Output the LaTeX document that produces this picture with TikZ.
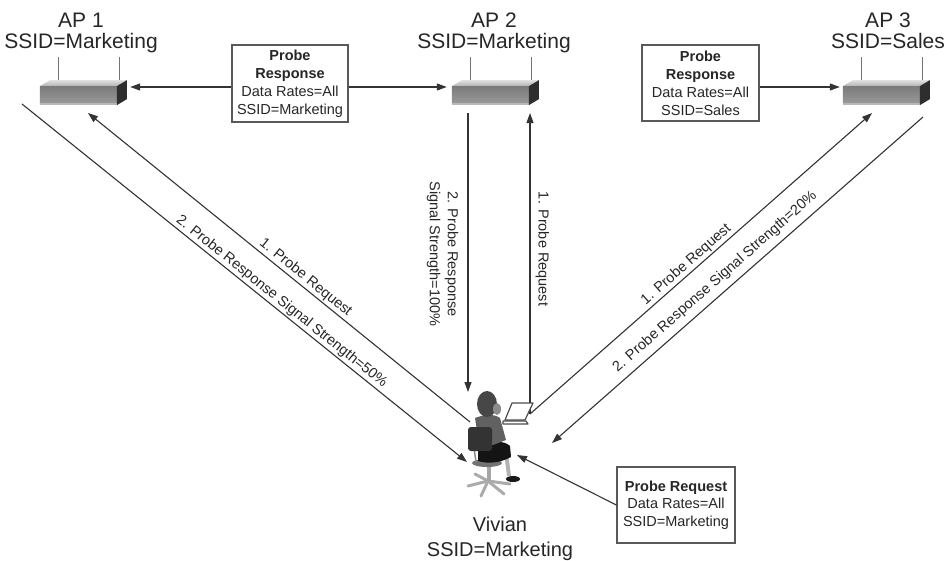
\documentclass[tikz,border=0pt]{standalone}
\usepackage{fontspec}
\setmainfont{Liberation Sans}
\usetikzlibrary{arrows.meta,calc}

\tikzset{
  wire/.style={draw=black!80, line width=1.1pt},
  arrow/.style={wire, -{Triangle[length=10pt,width=7pt]}},
  msg/.style={font=\fontsize{14.5}{18}\selectfont, text=black!85, inner sep=1.5pt},
  msgbox/.style={draw=black!65, line width=1.2pt, fill=white, align=center,
    inner sep=2pt, text=black!85, font=\fontsize{14.5}{18}\selectfont},
  apname/.style={font=\fontsize{21}{21}\selectfont, align=center, text=black!85,
    inner sep=0pt, anchor=north},
  apnode/.style={rectangle, minimum width=87pt, minimum height=25pt, inner sep=0pt},
  % access point drawn from the lower left corner of its front face
  ap/.pic={
    \draw[black!55, line width=1pt] (19,-10) -- (19,-48);
    \draw[black!55, line width=1pt] (80,-20) -- (80,-48);
    \shade[top color=black!12, bottom color=black!30] (0,-19) -- (10,-25) -- (87,-25) -- (77,-19) -- cycle;
    \shade[top color=black!52, bottom color=black!40] (0,-19) rectangle (77,-2);
    \fill[black!28] (0,-2) rectangle (77,0);
    \fill[black!82] (77,-19) -- (87,-25) -- (87,-6) -- (77,0) -- cycle;
  }
}

\begin{document}
\begin{tikzpicture}[x=1pt, y=-1pt]
\useasboundingbox (0,0) rectangle (948,560);

% access points
\node[apnode] (ap1) at (83.5,92.5) {};
\node[apnode] (ap2) at (495.5,92.5) {};
\node[apnode] (ap3) at (886.5,92.5) {};
\pic at (ap1.south west) {ap};
\pic at (ap2.south west) {ap};
\pic at (ap3.south west) {ap};

\node[apname] (ap1name) at (81,13) {AP 1\\SSID=Marketing};
\node[apname] (ap2name) at (494,13) {AP 2\\SSID=Marketing};
\node[apname] (ap3name) at (888,13) {AP 3\\SSID=Sales};

% frame boxes
\node[msgbox, minimum width=116pt, minimum height=77pt] (pr1) at (290,83.5)
  {\textbf{Probe}\\\textbf{Response}\\Data Rates=All\\SSID=Marketing};
\node[msgbox, minimum width=117pt, minimum height=76pt] (pr3) at (700.5,83)
  {\textbf{Probe}\\\textbf{Response}\\Data Rates=All\\SSID=Sales};
\node[msgbox, minimum width=118pt, minimum height=76pt, font=\fontsize{14.5}{17.5}\selectfont] (preq) at (676,505)
  {\textbf{Probe Request}\\Data Rates=All\\SSID=Marketing};

% connector end points
\coordinate (row) at (0,87);
\coordinate (ap1out) at (22,104);
\coordinate (ap1in) at (88,113);
\coordinate (ap2out) at (468,113);
\coordinate (ap2in) at (530,113);
\coordinate (ap3in) at (872,113);
\coordinate (ap3out) at (923,117);
\coordinate (shoulder) at (470,422);
\coordinate (lap) at (530,414);
\coordinate (head) at (468,392);
\coordinate (chairl) at (467,462);
\coordinate (chairr) at (552,443);
\coordinate (knee) at (517,455);

% probe responses broadcast to the access points
\draw[arrow, shorten >=3pt] (pr1.west |- row) -- (ap1.east |- row);
\draw[arrow, shorten >=5pt] (pr1.east |- row) -- (ap2.west |- row);
\draw[arrow, shorten >=3pt] (pr3.east |- row) -- (ap3.west |- row);

% AP 1 exchange
\draw[arrow] (shoulder) -- node[msg, pos=0.445, sloped, above] {1. Probe Request} (ap1in);
\draw[arrow] (ap1out) -- node[msg, pos=0.571, sloped, above] {2. Probe Response Signal Strength=50\%} (chairl);

% AP 2 exchange
\draw[arrow] (ap2out) -- node[msg, pos=0.505, rotate=-90, anchor=north, align=center,
  inner xsep=0pt, inner ysep=9pt] {2. Probe Response\\Signal Strength=100\%} (head);
\draw[arrow] (lap) -- node[msg, pos=0.548, rotate=-90, anchor=south,
  inner xsep=0pt, inner ysep=5pt] {1. Probe Request} (ap2in);

% AP 3 exchange
\draw[arrow] (lap) -- node[msg, pos=0.474, sloped, above] {1. Probe Request} (ap3in);
\draw[arrow] (ap3out) -- node[msg, pos=0.537, sloped, above=4.5pt] {2. Probe Response Signal Strength=20\%} (chairr);

% client request
\draw[arrow] (preq.west) -- (knee);

% Vivian at her desk chair
\begin{scope}[line join=round]
  \foreach \e in {(468,486),(481,496),(504,494),(510,484),(475,474)}
    \draw[line width=3pt, black!33, line cap=round] (488,481) -- \e;
  \draw[line width=4pt, black!35] (489,464) -- (489,481);
  \fill[black!55] (487,463) ellipse [x radius=15, y radius=4];
  \draw[black!45, line width=1.5pt] (474,448) -- (476,462);
  \draw[black!30, line width=4pt] (506,452) -- (509,476);
  \fill[black!90] (513,479) ellipse [x radius=7, y radius=3];
  \fill[black!92] (478,446) .. controls (492,441) and (504,440) .. (510,446)
    -- (511,457) .. controls (500,463) and (488,464) .. (478,461) -- cycle;
  \fill[black!62] (475,418) .. controls (485,414) and (495,414) .. (500,418)
    -- (506,440) -- (480,450) -- cycle;
  \fill[black!80, rounded corners=3pt] (468,427) rectangle (492,451);
  \fill[black!72] (487,404) ellipse [x radius=10, y radius=13];
  \fill[black!45] (497,409) ellipse [x radius=4, y radius=6];
  \draw[black!70, fill=white, line width=1.2pt] (505,420) -- (512,403) -- (533,403) -- (525,420) -- cycle;
  \draw[black!70, fill=white, line width=1.2pt] (503,421) -- (526,421) -- (528,424) -- (503,424) -- cycle;
\end{scope}
\node[apname, font=\fontsize{20}{25}\selectfont] (viv) at (500,517) {Vivian\\SSID=Marketing};

\end{tikzpicture}
\end{document}
